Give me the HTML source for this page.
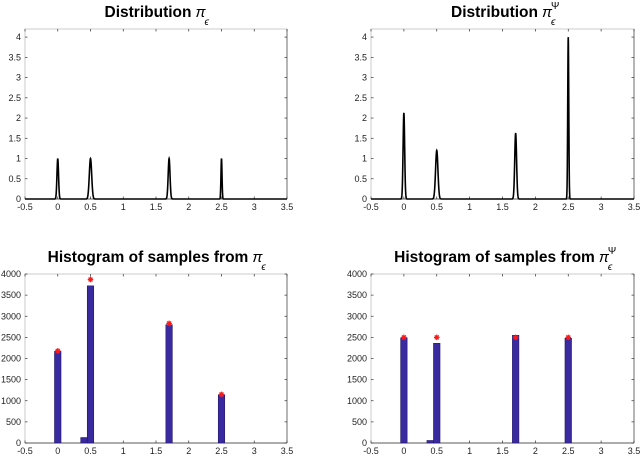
<!DOCTYPE html>
<html><head><meta charset="utf-8"><style>
body{margin:0;background:#fff;}
svg text{font-family:"Liberation Sans",sans-serif;}
</style></head><body>
<svg id="s" width="640" height="457" xmlns="http://www.w3.org/2000/svg"></svg>
<script>
const xTicks=[-0.5,0,0.5,1,1.5,2,2.5,3,3.5];
const xTickLabels=["-0.5","0","0.5","1","1.5","2","2.5","3","3.5"];
const densTicks=[0,0.5,1,1.5,2,2.5,3,3.5,4];
const densTickLabels=["0","0.5","1","1.5","2","2.5","3","3.5","4"];
const histTicks=[0,500,1000,1500,2000,2500,3000,3500,4000];
const histTickLabels=["0","500","1000","1500","2000","2500","3000","3500","4000"];
const peakLocs=[0,0.5,1.7,2.5];
const peakWidths=[0.012,0.018,0.014,0.008];
const peakHeightsPi=[1,1,1,1];
const peakHeightsPsi=[2.13,1.2,1.63,4.0];
const binCentersPi=[0,0.4,0.5,1.7,2.5];
const binCountsPi=[2170,130,3720,2800,1140];
const binCentersPsi=[0,0.4,0.5,1.7,2.5];
const binCountsPsi=[2490,60,2360,2550,2480];
const starXs=[0,0.5,1.7,2.5];
const starPi=[2180,3870,2830,1150];
const starPsi=[2500,2500,2500,2500];
const NS="http://www.w3.org/2000/svg";
const svg=document.getElementById('s');
function mk(tag,attrs,parent){const e=document.createElementNS(NS,tag);for(const k in attrs)e.setAttribute(k,attrs[k]);(parent||svg).appendChild(e);return e;}
function panel(L,R,T,B,ymax,yT,yTL,title,sup,name){
  const g=mk('g',{});
  
  
  const sx=v=>L+(v+0.5)/4*(R-L), sy=v=>B-v/ymax*(B-T);
  const box=mk('rect',{x:L,y:T,width:R-L,height:B-T,fill:'none',stroke:'#aaa','stroke-width':0.6},g);
  
  mk('line',{x1:L,y1:B,x2:R,y2:B,stroke:'#333','stroke-width':0.8},g);
  mk('line',{x1:R,y1:T,x2:R,y2:B,stroke:'#555','stroke-width':0.8},g);
  xTicks.forEach((v,i)=>{const x=sx(v);
    mk('line',{x1:x,y1:B,x2:x,y2:B-2.5,stroke:'#333','stroke-width':0.7},g);
    mk('line',{x1:x,y1:T,x2:x,y2:T+2.5,stroke:'#333','stroke-width':0.7},g);
    const t=mk('text',{x:x,y:B+11,'font-size':9,'text-anchor':'middle',fill:'#222'},g);t.textContent=xTickLabels[i];
    });
  yT.forEach((v,i)=>{const y=sy(v);
    mk('line',{x1:L,y1:y,x2:L+2.5,y2:y,stroke:'#333','stroke-width':0.7},g);
    mk('line',{x1:R,y1:y,x2:R-2.5,y2:y,stroke:'#333','stroke-width':0.7},g);
    const t=mk('text',{x:L-4,y:y+3,'font-size':9,'text-anchor':'end',fill:'#222'},g);t.textContent=yTL[i];
    });
  const t=mk('text',{x:(L+R)/2-8,y:T-12,'font-size':15.5,'font-weight':'bold','text-anchor':'middle',fill:'#000'},g);
  t.textContent=title;
  const tb=t.getBBox();
  const p=mk('text',{x:tb.x+tb.width+4,y:T-12,'font-size':15,'font-style':'italic','font-family':'Liberation Serif,serif'},g);p.textContent='π';
  const e=mk('text',{x:tb.x+tb.width+13,y:T-4,'font-size':10,'font-style':'italic','font-family':'Liberation Serif,serif'},g);e.textContent='ϵ';
  if(sup){const s=mk('text',{x:tb.x+tb.width+13,y:T-20,'font-size':10,'font-family':'Liberation Serif,serif'},g);s.textContent='Ψ';}
  return {g,sx,sy};
}
function density(P,heights){
  let d='';
  for(let i=0;i<=2000;i++){const x=-0.5+4*i/2000;let y=0;
    peakLocs.forEach((m,k)=>{y+=heights[k]*Math.exp(-((x-m)**2)/(2*peakWidths[k]**2));});
    d+=(i?'L':'M')+P.sx(x).toFixed(2)+','+P.sy(y).toFixed(2);}
  const path=mk('path',{d:d,fill:'none',stroke:'#000','stroke-width':1.6},P.g);
  
}
function hist(P,centers,counts,sx,sy){
  centers.forEach((c,i)=>{const x0=P.sx(c-0.05),x1=P.sx(c+0.05),y=P.sy(counts[i]);
    const r=mk('rect',{x:x0,y:y,width:x1-x0,height:P.sy(0)-y,fill:'#3a2aa0',stroke:'#1a1060','stroke-width':0.5},P.g);
    });
  sx.forEach((c,i)=>{const cx=P.sx(c),cy=P.sy(sy[i]);const r=2.8;
    const s=mk('path',{d:`M${cx-r},${cy}L${cx+r},${cy}M${cx},${cy-r}L${cx},${cy+r}M${cx-r*0.7},${cy-r*0.7}L${cx+r*0.7},${cy+r*0.7}M${cx-r*0.7},${cy+r*0.7}L${cx+r*0.7},${cy-r*0.7}`,stroke:'#ff1a1a','stroke-width':1.3,fill:'none'},P.g);
    });
}
const A=panel(25,287,29,199,4.2,densTicks,densTickLabels,'Distribution',false,'panel-distribution-pi');
density(A,peakHeightsPi);
const B=panel(371,634,29,199,4.2,densTicks,densTickLabels,'Distribution',true,'panel-distribution-pi-psi');
density(B,peakHeightsPsi);
const C=panel(25,287,274,443,4000,histTicks,histTickLabels,'Histogram of samples from',false,'panel-histogram-pi');
hist(C,binCentersPi,binCountsPi,starXs,starPi);
const D=panel(371,634,274,443,4000,histTicks,histTickLabels,'Histogram of samples from',true,'panel-histogram-pi-psi');
hist(D,binCentersPsi,binCountsPsi,starXs,starPsi);
</script>
</body></html>
